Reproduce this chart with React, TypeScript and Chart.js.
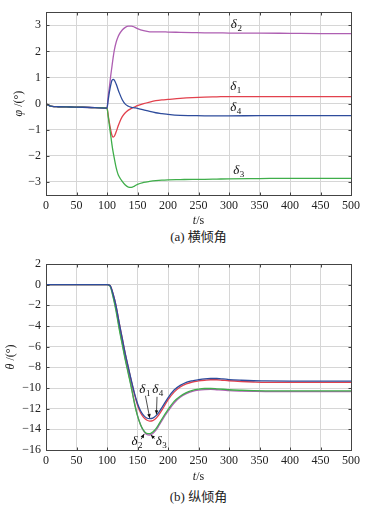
import React, { useEffect, useRef } from "react";
import { Chart, registerables } from "chart.js";
Chart.register(...registerables);

// ---------- data: roll angle (top) ----------
const tPhi = [0, 3, 6, 10, 20, 40, 60, 80, 100, 102, 104, 106, 108, 110, 112, 115, 118, 120, 125, 130, 135, 140, 145, 150, 160, 170, 180, 190, 200, 220, 240, 260, 280, 300, 350, 400, 450, 500];
const phiDelta1 = [0, -0.05, -0.09, -0.11, -0.12, -0.13, -0.14, -0.155, -0.17, -0.45, -0.75, -1.0, -1.2, -1.28, -1.25, -1.08, -0.88, -0.75, -0.5, -0.35, -0.25, -0.18, -0.13, -0.08, 0.0, 0.06, 0.11, 0.14, 0.16, 0.2, 0.23, 0.25, 0.26, 0.27, 0.27, 0.27, 0.27, 0.27];
const phiDelta2 = [0, -0.05, -0.09, -0.11, -0.12, -0.13, -0.14, -0.155, -0.17, 0.3, 0.65, 1.05, 1.4, 1.75, 2.05, 2.35, 2.55, 2.65, 2.82, 2.92, 2.97, 2.97, 2.93, 2.87, 2.79, 2.75, 2.75, 2.75, 2.74, 2.73, 2.72, 2.71, 2.71, 2.7, 2.7, 2.69, 2.68, 2.68];
const phiDelta3 = [0, -0.05, -0.09, -0.11, -0.12, -0.13, -0.14, -0.155, -0.17, -0.5, -0.85, -1.2, -1.55, -1.85, -2.1, -2.45, -2.7, -2.8, -2.98, -3.12, -3.2, -3.21, -3.16, -3.09, -3.02, -2.98, -2.95, -2.93, -2.92, -2.91, -2.9, -2.9, -2.89, -2.88, -2.87, -2.86, -2.86, -2.86];
const phiDelta4 = [0, -0.05, -0.09, -0.11, -0.12, -0.13, -0.14, -0.155, -0.17, 0.15, 0.45, 0.7, 0.88, 0.93, 0.9, 0.75, 0.55, 0.42, 0.15, -0.02, -0.1, -0.14, -0.16, -0.18, -0.24, -0.3, -0.35, -0.38, -0.41, -0.45, -0.46, -0.47, -0.47, -0.47, -0.46, -0.46, -0.46, -0.46];

// ---------- data: pitch angle (bottom) ----------
const tTheta = [0, 50, 100, 105, 110, 115, 120, 125, 130, 135, 140, 145, 150, 155, 160, 165, 170, 175, 180, 185, 190, 200, 210, 220, 230, 240, 250, 260, 270, 280, 290, 300, 320, 340, 360, 400, 450, 500];
const thetaDelta1 = [0, 0, 0, -0.08, -0.9, -2.1, -3.7, -5.2, -6.7, -8.05, -9.35, -10.6, -11.65, -12.4, -12.85, -13.1, -13.2, -13.15, -12.95, -12.6, -12.15, -11.15, -10.4, -9.9, -9.6, -9.42, -9.32, -9.25, -9.2, -9.2, -9.25, -9.3, -9.37, -9.42, -9.45, -9.45, -9.45, -9.45];
const thetaDelta2 = [0, 0, 0, -0.12, -1.1, -2.45, -4.1, -5.65, -7.15, -8.5, -9.9, -11.4, -12.65, -13.55, -14.15, -14.5, -14.55, -14.4, -14.1, -13.65, -13.15, -12.25, -11.45, -10.9, -10.55, -10.32, -10.2, -10.15, -10.14, -10.17, -10.2, -10.25, -10.3, -10.33, -10.35, -10.35, -10.35, -10.35];
const thetaDelta3 = [0, 0, 0, -0.15, -1.2, -2.6, -4.3, -5.8, -7.3, -8.65, -10.0, -11.5, -12.7, -13.55, -14.1, -14.4, -14.42, -14.25, -13.95, -13.5, -13.0, -12.1, -11.3, -10.8, -10.45, -10.22, -10.1, -10.05, -10.05, -10.08, -10.12, -10.17, -10.22, -10.25, -10.27, -10.28, -10.28, -10.28];
const thetaDelta4 = [0, 0, 0, -0.08, -0.9, -2.1, -3.7, -5.2, -6.7, -8.0, -9.3, -10.5, -11.5, -12.2, -12.65, -12.9, -12.97, -12.92, -12.7, -12.35, -11.9, -10.95, -10.2, -9.75, -9.45, -9.3, -9.2, -9.12, -9.08, -9.08, -9.12, -9.18, -9.25, -9.3, -9.32, -9.33, -9.33, -9.33];

// ---------- ticks ----------
const timeTicks = [0, 50, 100, 150, 200, 250, 300, 350, 400, 450, 500];
const phiTicks = [-3, -2, -1, 0, 1, 2, 3];
const thetaTicks = [-16, -14, -12, -10, -8, -6, -4, -2, 0, 2];

const seriesSubs = ["1", "2", "3", "4"];
const seriesColors = ["#e2414d", "#ae5fb2", "#3fae4a", "#2e4c9c"];
const seriesDrawOrder = [2, 3, 1, 0]; // lower = drawn on top

// label anchors (data coordinates)
const phiLabels = [
  { sub: "2", x: 308, y: 3.02 },
  { sub: "1", x: 307, y: 0.66 },
  { sub: "4", x: 307, y: -0.16 },
  { sub: "3", x: 312, y: -2.55 },
];
const thetaLabels = [
  { sub: "1", x: 158, y: -10.13 },
  { sub: "4", x: 179, y: -10.13 },
  { sub: "2", x: 145, y: -15.15 },
  { sub: "3", x: 185, y: -15.2 },
];
const thetaArrows = [
  { x0: 163, y0: -10.75, x1: 170, y1: -12.9 },
  { x0: 182, y0: -10.85, x1: 181, y1: -12.55 },
  { x0: 156, y0: -14.95, x1: 161, y1: -14.45 },
  { x0: 178, y0: -14.9, x1: 172, y1: -14.55 },
];

const SERIF = '"Liberation Serif", "Times New Roman", serif';
const toMinus = (v: number) => String(v).replace("-", "\u2212");

const framePlugin = {
  id: "frame",
  afterDatasetsDraw(chart: any) {
    const { ctx, chartArea: a, scales } = chart;
    const L = Math.floor(a.left) + 0.5, R = Math.floor(a.right) + 0.5;
    const T = Math.floor(a.top) + 0.5, B = Math.floor(a.bottom) + 0.5;
    ctx.save();
    ctx.strokeStyle = "#444";
    ctx.lineWidth = 1;
    ctx.strokeRect(L, T, R - L, B - T);
    ctx.beginPath();
    for (const tk of scales.x.ticks) {
      const px = Math.round(scales.x.getPixelForValue(tk.value)) + 0.5;
      ctx.moveTo(px, B); ctx.lineTo(px, B - 3);
      ctx.moveTo(px, T); ctx.lineTo(px, T + 3);
    }
    for (const tk of scales.y.ticks) {
      const py = Math.round(scales.y.getPixelForValue(tk.value)) + 0.5;
      ctx.moveTo(L, py); ctx.lineTo(L + 3, py);
      ctx.moveTo(R, py); ctx.lineTo(R - 3, py);
    }
    ctx.stroke();
    ctx.restore();
  },
};

function drawMixed(ctx: any, parts: { text: string; italic?: boolean }[], cx: number, cy: number, size: number) {
  let total = 0;
  const widths = parts.map((p) => {
    ctx.font = `${p.italic ? "italic " : ""}${size}px ${SERIF}`;
    const w = ctx.measureText(p.text).width;
    total += w;
    return w;
  });
  let x = cx - total / 2;
  ctx.textAlign = "left";
  ctx.textBaseline = "middle";
  parts.forEach((p, i) => {
    ctx.font = `${p.italic ? "italic " : ""}${size}px ${SERIF}`;
    ctx.fillText(p.text, x, cy);
    x += widths[i];
  });
}

const axisTitlePlugin = {
  id: "axisTitles",
  afterDraw(chart: any, _args: any, opts: any) {
    const { ctx, chartArea: a } = chart;
    ctx.save();
    ctx.fillStyle = "#222";
    drawMixed(ctx, [{ text: "t", italic: true }, { text: "/s" }], (a.left + a.right) / 2, a.bottom + opts.xDy, 12);
    ctx.translate(opts.yX, (a.top + a.bottom) / 2);
    ctx.rotate(-Math.PI / 2);
    drawMixed(ctx, [{ text: opts.ySymbol, italic: true }, { text: " /(\u00b0)" }], 0, 0, 12);
    ctx.restore();
  },
};

const labelPlugin = {
  id: "deltaLabels",
  afterDatasetsDraw(chart: any, _args: any, opts: any) {
    const { ctx, scales } = chart;
    ctx.save();
    ctx.fillStyle = "#111";
    ctx.strokeStyle = "#222";
    ctx.lineWidth = 0.8;
    for (const ar of opts.arrows || []) {
      const x0 = scales.x.getPixelForValue(ar.x0), y0 = scales.y.getPixelForValue(ar.y0);
      const x1 = scales.x.getPixelForValue(ar.x1), y1 = scales.y.getPixelForValue(ar.y1);
      ctx.beginPath(); ctx.moveTo(x0, y0); ctx.lineTo(x1, y1); ctx.stroke();
      const ang = Math.atan2(y1 - y0, x1 - x0);
      const hl = 4, hw = 1.8;
      ctx.beginPath();
      ctx.moveTo(x1, y1);
      ctx.lineTo(x1 - hl * Math.cos(ang) + hw * Math.sin(ang), y1 - hl * Math.sin(ang) - hw * Math.cos(ang));
      ctx.lineTo(x1 - hl * Math.cos(ang) - hw * Math.sin(ang), y1 - hl * Math.sin(ang) + hw * Math.cos(ang));
      ctx.closePath(); ctx.fill();
    }
    ctx.textBaseline = "middle";
    for (const lb of opts.labels || []) {
      const px = scales.x.getPixelForValue(lb.x), py = scales.y.getPixelForValue(lb.y);
      ctx.textAlign = "center";
      ctx.font = `italic 13px ${SERIF}`;
      ctx.fillText("\u03b4", px, py);
      const w = ctx.measureText("\u03b4").width;
      ctx.font = `9px ${SERIF}`;
      ctx.textAlign = "left";
      ctx.fillText(lb.sub, px + w / 2 + 0.5, py + 4);
    }
    ctx.restore();
  },
};

function buildConfig(p: {
  t: number[]; series: number[][]; yMin: number; yMax: number; yTicks: number[];
  ySymbol: string; padTop: number; xHeight: number; yX: number; xDy: number;
  labels: any[]; arrows: any[];
}) {
  return {
    type: "line",
    data: {
      datasets: p.series.map((s, k) => ({
        label: "\u03b4" + seriesSubs[k],
        data: p.t.map((tv, i) => ({ x: tv, y: s[i] })),
        borderColor: seriesColors[k],
        backgroundColor: seriesColors[k],
        borderWidth: 1.3,
        pointRadius: 0,
        fill: false,
        order: seriesDrawOrder[k],
        cubicInterpolationMode: "monotone",
      })),
    },
    options: {
      animation: false,
      responsive: false,
      maintainAspectRatio: false,
      events: [],
      layout: { padding: { left: 0, right: 22, top: p.padTop, bottom: 0 } },
      plugins: {
        legend: { display: false },
        tooltip: { enabled: false },
        deltaLabels: { labels: p.labels, arrows: p.arrows },
        axisTitles: { xDy: p.xDy, yX: p.yX, ySymbol: p.ySymbol },
      },
      scales: {
        x: {
          type: "linear",
          min: 0,
          max: 500,
          afterBuildTicks: (s: any) => { s.ticks = timeTicks.map((v) => ({ value: v })); },
          afterFit: (s: any) => { s.height = p.xHeight; },
          grid: { color: "#d6d6d6", drawTicks: false, lineWidth: 1 },
          border: { display: false },
          ticks: { padding: 4, color: "#222", autoSkip: false, maxRotation: 0, font: { family: SERIF, size: 12 }, callback: (v: any) => toMinus(v) },
          title: { display: false },
        },
        y: {
          type: "linear",
          min: p.yMin,
          max: p.yMax,
          afterBuildTicks: (s: any) => { s.ticks = p.yTicks.map((v) => ({ value: v })); },
          afterFit: (s: any) => { s.width = 46; },
          grid: { color: "#d6d6d6", drawTicks: false, lineWidth: 1 },
          border: { display: false },
          ticks: { padding: 5, color: "#222", autoSkip: false, font: { family: SERIF, size: 12 }, callback: (v: any) => toMinus(v) },
          title: { display: false },
        },
      },
    },
    plugins: [framePlugin, labelPlugin, axisTitlePlugin],
  } as any;
}

function Panel(props: { top: number; height: number; config: any }) {
  const ref = useRef<HTMLCanvasElement | null>(null);
  useEffect(() => {
    if (!ref.current) return;
    const chart = new Chart(ref.current, props.config);
    return () => chart.destroy();
  }, []);
  return (
    <canvas
      ref={ref}
      width={373}
      height={props.height}
      style={{ position: "absolute", left: 0, top: props.top, width: 373, height: props.height }}
    />
  );
}

const captionStyle = (top: number): React.CSSProperties => ({
  position: "absolute",
  left: 46,
  width: 305,
  top,
  textAlign: "center",
  fontFamily: '"Liberation Serif", "Noto Sans CJK SC", serif',
  fontSize: 13,
  lineHeight: "16px",
  color: "#222",
});

export default function App() {
  const cfgTop = buildConfig({
    t: tPhi,
    series: [phiDelta1, phiDelta2, phiDelta3, phiDelta4],
    yMin: -3.5, yMax: 3.5, yTicks: phiTicks, ySymbol: "\u03c6",
    padTop: 8, xHeight: 33, yX: 19, xDy: 26,
    labels: phiLabels, arrows: [],
  });
  const cfgBottom = buildConfig({
    t: tTheta,
    series: [thetaDelta1, thetaDelta2, thetaDelta3, thetaDelta4],
    yMin: -16, yMax: 2, yTicks: thetaTicks, ySymbol: "\u03b8",
    padTop: 14, xHeight: 36, yX: 11, xDy: 27,
    labels: thetaLabels, arrows: thetaArrows,
  });
  return (
    <div style={{ position: "absolute", left: 0, top: 0, width: 373, height: 509, background: "#fff" }}>
      <Panel top={0} height={228} config={cfgTop} />
      <div style={captionStyle(229)}>(a) 横倾角</div>
      <Panel top={250} height={236} config={cfgBottom} />
      <div style={captionStyle(489)}>(b) 纵倾角</div>
    </div>
  );
}
